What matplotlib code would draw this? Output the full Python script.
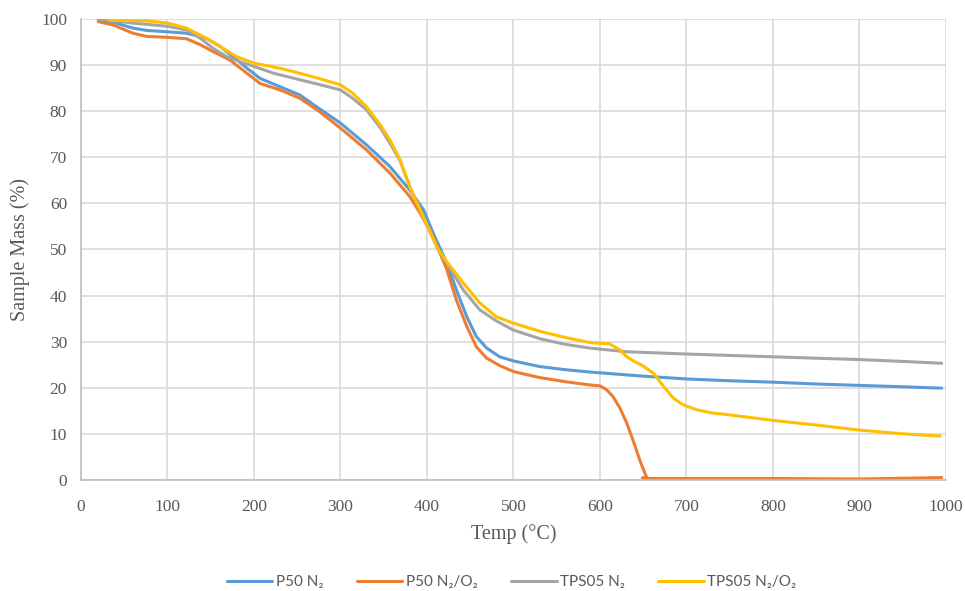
import matplotlib.pyplot as plt

# TGA curves (temperature in degC, mass in %)
t_p50_n2 = [20, 37, 60, 76, 100, 122, 145, 161, 176, 192, 207, 230, 253, 275, 300, 330, 357,
            380, 396, 407, 423, 434, 446, 457, 469, 484, 500, 530, 560, 588, 650, 700, 750, 800,
            850, 900, 950, 995]
m_p50_n2 = [99.8, 99.3, 98.0, 97.5, 97.2, 96.9, 95.8, 94.0, 91.8, 89.3, 87.1, 85.3, 83.5, 80.6,
            77.4, 72.7, 68.0, 62.9, 58.6, 53.6, 47.0, 41.2, 35.4, 31.1, 28.6, 26.7, 25.8, 24.6,
            23.9, 23.4, 22.5, 21.9, 21.5, 21.2, 20.8, 20.5, 20.2, 19.9]

t_p50_o2 = [20, 37, 60, 76, 100, 122, 138, 153, 172, 192, 207, 230, 253, 275, 300, 330, 357,
            380, 392, 407, 423, 434, 446, 457, 469, 484, 500, 530, 560, 588, 600, 608, 615, 623,
            631, 638, 646, 652, 654, 649, 660, 700, 800, 900, 995]
m_p50_o2 = [99.4, 98.7, 96.9, 96.2, 96.0, 95.7, 94.4, 92.9, 91.1, 88.2, 86.0, 84.6, 82.8, 80.0,
            76.3, 71.6, 66.6, 61.5, 57.9, 52.8, 45.6, 39.0, 33.3, 28.9, 26.4, 24.8, 23.5, 22.2,
            21.3, 20.6, 20.4, 19.5, 18.1, 15.6, 12.3, 8.7, 4.3, 1.4, 0.6, 0.4, 0.3, 0.3, 0.3,
            0.2, 0.5]

t_tps_n2 = [20, 60, 100, 122, 138, 153, 169, 184, 200, 223, 253, 275, 300, 314, 330, 346, 357,
            369, 380, 392, 402, 412, 423, 442, 461, 480, 500, 531, 560, 588, 630, 701, 750, 800,
            850, 900, 950, 995]
m_tps_n2 = [100.0, 99.1, 98.4, 97.6, 95.8, 93.6, 91.8, 90.7, 89.7, 88.2, 86.8, 85.8, 84.6,
            82.8, 80.3, 76.4, 73.1, 69.2, 63.6, 58.6, 54.5, 50.3, 47.0, 41.2, 36.9, 34.5, 32.5,
            30.6, 29.4, 28.6, 27.8, 27.3, 27.0, 26.7, 26.4, 26.1, 25.7, 25.3]

t_tps_o2 = [33, 76, 100, 122, 145, 161, 180, 200, 230, 253, 275, 300, 314, 330, 346, 357, 369,
            380, 392, 402, 412, 423, 442, 461, 480, 500, 531, 560, 588, 611, 623, 631, 638, 650,
            662, 673, 685, 696, 712, 727, 750, 800, 850, 900, 950, 993]
m_tps_o2 = [99.7, 99.6, 99.1, 98.0, 95.8, 94.0, 91.8, 90.4, 89.3, 88.2, 87.1, 85.7, 83.9, 81.0,
            77.0, 73.8, 69.4, 63.6, 58.6, 54.5, 50.3, 47.3, 42.7, 38.4, 35.4, 34.0, 32.2, 30.9,
            29.8, 29.5, 28.2, 26.7, 25.9, 24.7, 23.1, 20.4, 17.7, 16.3, 15.2, 14.6, 14.1, 12.9,
            11.9, 10.8, 10.0, 9.5]

labels = ["P50 N\u2082", "P50 N\u2082/O\u2082", "TPS05 N\u2082", "TPS05 N\u2082/O\u2082"]
colors = ["#5b9bd5", "#ed7d31", "#a5a5a5", "#ffc000"]

fig = plt.figure(figsize=(9.65, 5.91), dpi=100)
ax = fig.add_axes([0.0839, 0.188, 0.8964, 0.780])

series = [(t_p50_n2, m_p50_n2), (t_p50_o2, m_p50_o2), (t_tps_n2, m_tps_n2), (t_tps_o2, m_tps_o2)]
for (t, m), lab, c in zip(series, labels, colors):
    ax.plot(t, m, color=c, lw=2.2, label=lab, solid_capstyle="round", solid_joinstyle="round")

ax.set_xlim(0, 1000)
ax.set_ylim(0, 100)
ax.set_xticks(range(0, 1001, 100))
ax.set_yticks(range(0, 101, 10))
ax.grid(True, color="#d9d9d9", lw=1.2)
ax.set_axisbelow(True)
for s in ["top", "right"]:
    ax.spines[s].set_visible(False)
for s in ["left", "bottom"]:
    ax.spines[s].set_color("#bfbfbf")
    ax.spines[s].set_linewidth(1.2)
ax.tick_params(axis="x", length=0, pad=14, labelsize=12.5, labelcolor="#595959")
ax.tick_params(axis="y", length=0, pad=10, labelsize=12.5, labelcolor="#595959")
for lbl in ax.get_xticklabels() + ax.get_yticklabels():
    lbl.set_family("Liberation Serif")

ax.set_xlabel("Temp (\u00b0C)", family="Liberation Serif", fontsize=14.5, color="#595959", labelpad=6)
ax.set_ylabel("Sample Mass (%)", family="Liberation Serif", fontsize=14.5, color="#595959", labelpad=8)

leg = fig.legend(loc="lower center", bbox_to_anchor=(0.53, -0.02), ncol=4, frameon=False,
                 prop={"family": ["Lato", "DejaVu Sans"], "size": 11},
                 handlelength=3.0, columnspacing=2.2, handletextpad=0.2)
for txt in leg.get_texts():
    txt.set_color("#595959")

fig.savefig("out.png", dpi=100)
